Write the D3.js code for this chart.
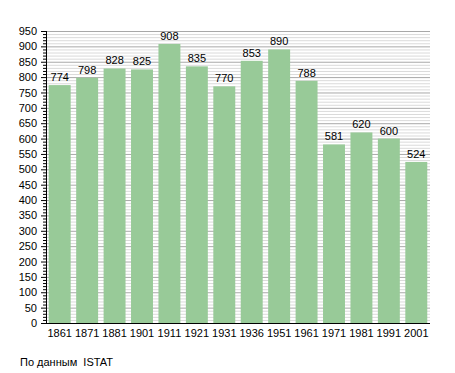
<!DOCTYPE html>
<html><head><meta charset="utf-8">
<script src="https://cdn.jsdelivr.net/npm/d3@7"></script>
<style>body{margin:0;background:#fff}svg{display:block}text{font-family:"Liberation Sans",Arial,sans-serif}</style>
</head><body><svg id="c" width="455" height="373"></svg>
<script>
const years = ["1861","1871","1881","1901","1911","1921","1931","1936","1951","1961","1971","1981","1991","2001"];
const population = [774,798,828,825,908,835,770,853,890,788,581,620,600,524];
const yTicks = d3.range(0, 951, 50);
const caption = "По данным  ISTAT";

const svg = d3.select("#c");
const m = {l:46, r:25, t:31, b:50};
const W = 455, H = 373;
const x = d3.scaleBand().domain(years).range([m.l, W - m.r]).paddingInner(0.2).paddingOuter(0.1);
const y = d3.scaleLinear().domain([0, 950]).range([H - m.b, m.t]);

// minor grid
svg.append("g").selectAll("line").data(d3.range(0, 951, 10).filter(v => v % 50)).join("line")
  .attr("x1", m.l).attr("x2", W - m.r).attr("y1", d => y(d) + .5).attr("y2", d => y(d) + .5)
  .attr("stroke", "#dadada").attr("stroke-width", 1);
// major grid
svg.append("g").selectAll("line").data(yTicks.slice(1)).join("line")
  .attr("x1", m.l).attr("x2", W - m.r).attr("y1", d => y(d) + .5).attr("y2", d => y(d) + .5)
  .attr("stroke", "#a8a8a8").attr("stroke-width", 1);

// bars
svg.append("g").selectAll("rect").data(years).join("rect")
  .attr("x", d => x(d)).attr("width", x.bandwidth())
  .attr("y", (d, i) => y(population[i])).attr("height", (d, i) => y(0) - y(population[i]))
  .attr("fill", "#98ca98");

// value labels
svg.append("g").selectAll("text").data(years).join("text")
  .attr("x", d => x(d) + x.bandwidth() / 2).attr("y", (d, i) => y(population[i]) - 4)
  .attr("text-anchor", "middle").attr("font-size", 11).attr("fill", "#000")
  .text((d, i) => population[i]);

// y axis
const yAxis = svg.append("g").attr("transform", `translate(${m.l},0)`)
  .call(d3.axisLeft(y).tickValues(yTicks).tickSize(5).tickPadding(4));
yAxis.selectAll("text").attr("font-size", 11).attr("fill", "#000").style("font-family", '"Liberation Sans",Arial,sans-serif');
yAxis.select(".domain").attr("d", `M0.5,${y(950)}V${y(0)}`).attr("stroke", "#000");
yAxis.selectAll(".tick line").attr("stroke", "#000");
svg.append("g").selectAll("line").data(d3.range(0, 951, 10).filter(v => v % 50)).join("line")
  .attr("x1", m.l - 3).attr("x2", m.l).attr("y1", d => y(d) + .5).attr("y2", d => y(d) + .5)
  .attr("stroke", "#000");

// x axis
const xAxis = svg.append("g").attr("transform", `translate(0,${y(0)})`)
  .call(d3.axisBottom(x).tickSize(0).tickPadding(6));
xAxis.selectAll("text").attr("font-size", 11).attr("fill", "#000").style("font-family", '"Liberation Sans",Arial,sans-serif');
xAxis.select(".domain").attr("d", `M${m.l},0.5H${W - m.r}`).attr("stroke", "#000");

svg.append("text").attr("x", 20).attr("y", 366).attr("font-size", 11).attr("fill", "#000")
  .style("white-space", "pre").text(caption);
</script></body></html>
